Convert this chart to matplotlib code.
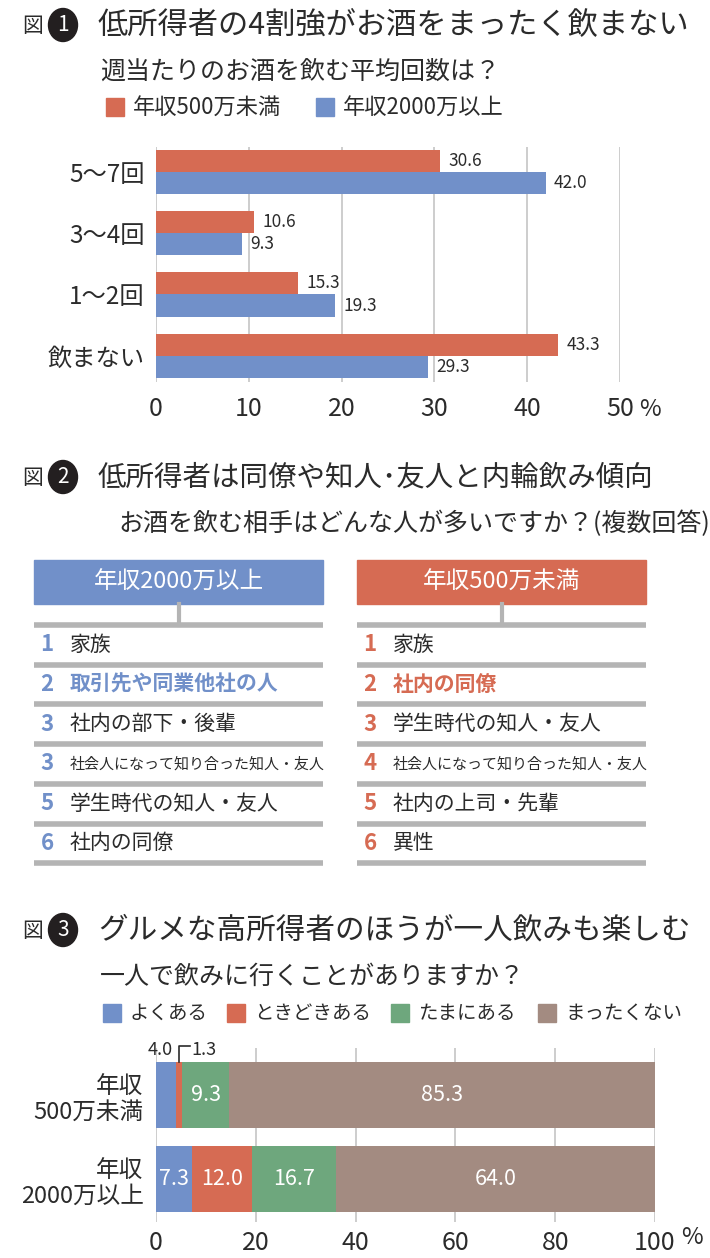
import numpy as np
import matplotlib
matplotlib.use('Agg')
import matplotlib.pyplot as plt
from matplotlib.patches import Ellipse, Rectangle
from matplotlib import font_manager as fm

plt.rcParams['font.family'] = ['Noto Sans CJK JP', 'DejaVu Sans']

# 数字だけ細めのフォントがあれば使う
_names = {f.name for f in fm.fontManager.ttflist}
if 'Liberation Sans Narrow' in _names:
    NUM_FONT = ['Liberation Sans Narrow', 'Noto Sans CJK JP']
else:
    NUM_FONT = ['Noto Sans CJK JP', 'DejaVu Sans']

RED = '#d66b53'
BLUE = '#7190c9'
GREEN = '#6ea77d'
BROWN = '#a38b81'
GRID = '#c9c9c9'
LINE = '#b4b4b4'
INK = '#2b2b2b'

# 図1 週当たりのお酒を飲む平均回数
freq_cats = ['5〜7回', '3〜4回', '1〜2回', '飲まない']
freq_low = [30.6, 10.6, 15.3, 43.3]    # 年収500万未満
freq_high = [42.0, 9.3, 19.3, 29.3]    # 年収2000万以上
freq_ticks = [0, 10, 20, 30, 40, 50]

# 図2 お酒を飲む相手
partner_high_rank = ['1', '2', '3', '3', '5', '6']
partner_high = ['家族', '取引先や同業他社の人', '社内の部下・後輩',
                '社会人になって知り合った知人・友人', '学生時代の知人・友人', '社内の同僚']
partner_low_rank = ['1', '2', '3', '4', '5', '6']
partner_low = ['家族', '社内の同僚', '学生時代の知人・友人',
               '社会人になって知り合った知人・友人', '社内の上司・先輩', '異性']

# 図3 一人で飲みに行くことがあるか
solo_groups = ['年収\n500万未満', '年収\n2000万以上']
solo_labels = ['よくある', 'ときどきある', 'たまにある', 'まったくない']
solo_often = [4.0, 7.3]
solo_sometimes = [1.3, 12.0]
solo_rarely = [9.3, 16.7]
solo_never = [85.3, 64.0]
solo_ticks = [0, 20, 40, 60, 80, 100]

W, H = 710, 1258
fig = plt.figure(figsize=(W / 100, H / 100), dpi=100)
fig.patch.set_facecolor('white')

# 全体をピクセル座標で扱う背景用axes
bg = fig.add_axes([0, 0, 1, 1])
bg.set_xlim(0, W)
bg.set_ylim(H, 0)
bg.axis('off')


def axes_px(x0, y0, x1, y1):
    return fig.add_axes([x0 / W, 1 - y1 / H, (x1 - x0) / W, (y1 - y0) / H])


def heading(y, num, title, tsize, sub, sub_x):
    bg.text(33, y + 1, '図', fontsize=15, ha='center', va='center', color=INK)
    bg.add_patch(Ellipse((63, y), 29, 33, color='#231f20'))
    bg.text(63, y, num, color='white', fontsize=15, ha='center', va='center',
            family=NUM_FONT)
    bg.text(98, y, title, fontsize=tsize, va='center', color=INK)
    bg.text(sub_x, y + 47, sub, fontsize=18, va='center', color=INK)


def legend(y, items, size):
    for x, c, lab in items:
        bg.add_patch(Rectangle((x, y - 9), 18, 18, color=c))
        bg.text(x + 27, y, lab, fontsize=size, va='center', color=INK)


# ---------- 図1 ----------
heading(25, '1', '低所得者の4割強がお酒をまったく飲まない', 21.8,
        '週当たりのお酒を飲む平均回数は？', 100)
legend(107, [(106, RED, '年収500万未満'), (316, BLUE, '年収2000万以上')], 16)

ax1 = axes_px(156, 147, 620, 382)
y = np.arange(len(freq_cats))
h = 0.36
b_low = ax1.barh(y - h / 2, freq_low, height=h, color=RED)
b_high = ax1.barh(y + h / 2, freq_high, height=h, color=BLUE)
ax1.bar_label(b_low, fmt='%.1f', padding=6, fontsize=12.5, color=INK, family=NUM_FONT)
ax1.bar_label(b_high, fmt='%.1f', padding=6, fontsize=12.5, color=INK, family=NUM_FONT)
ax1.set_xlim(0, 50)
ax1.set_ylim(3.43, -0.41)
ax1.set_xticks(freq_ticks)
ax1.set_xticklabels([str(t) for t in freq_ticks], fontsize=18, family=NUM_FONT, color=INK)
ax1.set_yticks(y)
ax1.set_yticklabels(freq_cats, fontsize=17.5, color=INK)
ax1.tick_params(axis='x', length=0, pad=10)
ax1.tick_params(axis='y', length=0, pad=8)
ax1.grid(axis='x', color=GRID, lw=1.3)
ax1.set_axisbelow(True)
for s in ax1.spines.values():
    s.set_visible(False)
bg.text(650, 410, '%', fontsize=17, ha='center', va='center', color=INK)

# ---------- 図2 ----------
heading(477, '2', '低所得者は同僚や知人･友人と内輪飲み傾向', 20.5,
        'お酒を飲む相手はどんな人が多いですか？(複数回答)', 118)

row_h = 39.7
for x0, color, head, ranks, items in [
        (34, BLUE, '年収2000万以上', partner_high_rank, partner_high),
        (357, RED, '年収500万未満', partner_low_rank, partner_low)]:
    bw = 289
    bg.add_patch(Rectangle((x0, 560), bw, 44, color=color))
    bg.text(x0 + bw / 2, 582, head, color='white', fontsize=17, ha='center', va='center')
    bg.plot([x0 + bw / 2] * 2, [604, 625], color=LINE, lw=3)
    for i, (r, t) in enumerate(zip(ranks, items)):
        yl = 625 + i * row_h
        bg.plot([x0, x0 + bw], [yl, yl], color=LINE, lw=4, solid_capstyle='butt')
        yc = yl + row_h / 2
        bold = (i == 1)
        bg.text(x0 + 13, yc, r, fontsize=16, ha='center', va='center', color=color,
                weight='bold', family=NUM_FONT)
        bg.text(x0 + 36, yc, t, fontsize=10.8 if len(t) > 12 else 15, va='center',
                color=color if bold else INK, weight='bold' if bold else 'normal')
    yl = 625 + len(items) * row_h
    bg.plot([x0, x0 + bw], [yl, yl], color=LINE, lw=4, solid_capstyle='butt')

# ---------- 図3 ----------
heading(930, '3', 'グルメな高所得者のほうが一人飲みも楽しむ', 21.3,
        '一人で飲みに行くことがありますか？', 100)
solo_colors = [BLUE, RED, GREEN, BROWN]
legend(1013, [(103, BLUE, solo_labels[0]), (227, RED, solo_labels[1]),
              (391, GREEN, solo_labels[2]), (538, BROWN, solo_labels[3])], 14)

ax3 = axes_px(156, 1048, 655, 1222)
y3 = np.arange(len(solo_groups))
series = [solo_often, solo_sometimes, solo_rarely, solo_never]
left = np.zeros(len(solo_groups))
for vals, c in zip(series, solo_colors):
    vals = np.array(vals)
    ax3.barh(y3, vals, left=left, height=0.78, color=c)
    for yi, (l, v) in enumerate(zip(left, vals)):
        if v >= 5:
            ax3.text(l + v / 2, yi, f'{v:.1f}', color='white', fontsize=15.5,
                     ha='center', va='center', family=NUM_FONT)
    left += vals

# 細いセグメントのラベル
ax3.text(solo_often[0] - 0.6, -0.54, f'{solo_often[0]:.1f}', fontsize=13, ha='right',
         va='center', color=INK, family=NUM_FONT, clip_on=False)
xm = solo_often[0] + solo_sometimes[0] / 2
ax3.plot([xm, xm, xm + 2.2], [-0.39, -0.58, -0.58], color=INK, lw=1.2, clip_on=False)
ax3.text(xm + 2.4, -0.54, f'{solo_sometimes[0]:.1f}', fontsize=13, ha='left',
         va='center', color=INK, family=NUM_FONT, clip_on=False)

ax3.set_xlim(0, 100)
ax3.set_ylim(1.51, -0.56)
ax3.set_xticks(solo_ticks)
ax3.set_xticklabels([str(t) for t in solo_ticks], fontsize=18, family=NUM_FONT, color=INK)
ax3.set_yticks(y3)
ax3.set_yticklabels(solo_groups, fontsize=17, color=INK, linespacing=1.2)
ax3.tick_params(axis='x', length=0, pad=6)
ax3.tick_params(axis='y', length=0, pad=9)
ax3.grid(axis='x', color=GRID, lw=1.3)
ax3.set_axisbelow(True)
for s in ax3.spines.values():
    s.set_visible(False)
bg.text(692, 1237, '%', fontsize=17, ha='center', va='center', color=INK)

fig.savefig('out.png', dpi=100, facecolor='white')
